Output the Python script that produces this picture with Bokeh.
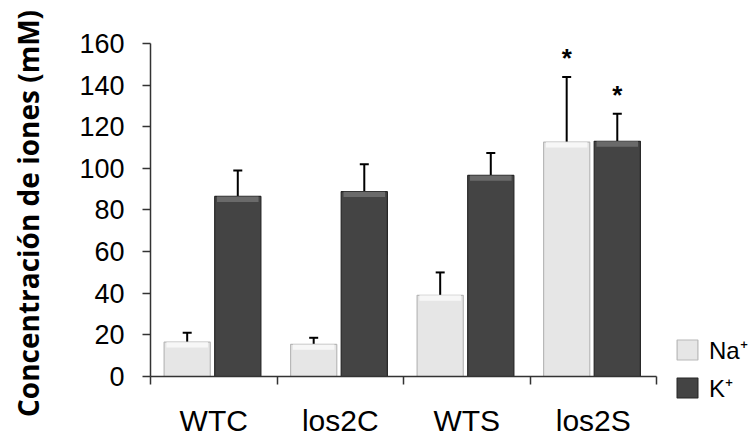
import numpy as np
from bokeh.plotting import figure
from bokeh.models import (ColumnDataSource, FixedTicker, Whisker, TeeHead, Range1d,
                          Legend, LegendItem, Label)
from bokeh.core.properties import value
from bokeh.embed import file_html
from bokeh.resources import INLINE

categories = ["WTC", "los2C", "WTS", "los2S"]
na_mean = [16.5, 15.4, 39.0, 112.6]
na_err = [4.5, 3.2, 11.0, 31.3]
k_mean = [86.5, 88.8, 96.6, 113.0]
k_err = [12.5, 13.2, 10.8, 13.3]
na_signif = [False, False, False, True]
k_signif = [False, False, False, True]
y_ticks = [0, 20, 40, 60, 80, 100, 120, 140, 160]
y_title = "Concentración de iones (mM)"
series_labels = ["Na⁺", "K⁺"]

NA_OFF, K_OFF, BAR_W = -0.21, 0.19, 0.365
n = len(categories)
idx = np.arange(n) + 0.5

na = ColumnDataSource(dict(x=idx + NA_OFF, top=na_mean, up=np.add(na_mean, na_err),
                           bev=np.subtract(na_mean, 2.6)))
k = ColumnDataSource(dict(x=idx + K_OFF, top=k_mean, up=np.add(k_mean, k_err),
                          bev=np.subtract(k_mean, 2.6)))

W, H = 753, 436
# the frame covers the whole canvas; axes are drawn at fixed locations inside it
p = figure(width=W, height=H, output_backend="svg", toolbar_location=None,
           x_range=Range1d(-1.1858, 4.7668), y_range=Range1d(-28.83, 180.66),
           min_border=0)
p.outline_line_color = None
p.grid.grid_line_color = None
p.background_fill_color = "white"

na_r = p.vbar(x="x", top="top", bottom=0, width=BAR_W, source=na,
              fill_color="#e6e6e6", line_color="#b8b8b8", line_width=1.2)
k_r = p.vbar(x="x", top="top", bottom=0, width=BAR_W, source=k,
             fill_color="#444444", line_color="#262626", line_width=1.2)
# bevel strips on top of bars
p.vbar(x="x", top="top", bottom="bev", width=BAR_W * 0.9, source=na,
       fill_color="#f7f7f7", line_color=None)
p.vbar(x="x", top="top", bottom="bev", width=BAR_W * 0.9, source=k,
       fill_color="#6a6a6a", line_color=None)

for src in (na, k):
    w = Whisker(base="x", lower="top", upper="up", source=src, dimension="height",
                line_color="black", line_width=2,
                upper_head=TeeHead(size=9, line_color="black", line_width=2),
                lower_head=None)
    p.add_layout(w)

star_x = list((idx + NA_OFF)[np.array(na_signif)]) + list((idx + K_OFF)[np.array(k_signif)])
star_y = list(np.add(na_mean, na_err)[np.array(na_signif)]) + list(np.add(k_mean, k_err)[np.array(k_signif)])
p.text(x=star_x, y=star_y, text=["*"] * len(star_x), text_align="center",
       text_baseline="bottom", y_offset=-4, text_font=value("Liberation Sans"),
       text_font_style="bold", text_font_size="26px", text_color="black")

# y axis at x=0
p.yaxis.fixed_location = 0
p.yaxis.bounds = (0, 160)
p.yaxis.ticker = FixedTicker(ticks=y_ticks)
p.yaxis.major_tick_out = 8
p.yaxis.major_tick_in = 0
p.yaxis.minor_tick_line_color = None
p.yaxis.axis_line_color = "#333333"
p.yaxis.axis_line_width = 1.5
p.yaxis.major_tick_line_color = "#333333"
p.yaxis.major_tick_line_width = 1.5
p.yaxis.major_label_text_font = "Liberation Sans"
p.yaxis.major_label_text_font_size = "27px"
p.yaxis.major_label_text_color = "black"
p.yaxis.major_label_standoff = 18

# x axis at y=0
p.xaxis.fixed_location = 0
p.xaxis.bounds = (0, n)
p.xaxis.ticker = FixedTicker(ticks=list(idx), minor_ticks=list(range(n + 1)))
p.xaxis.major_label_overrides = {float(v): c for v, c in zip(idx, categories)}
p.xaxis.major_tick_line_color = None
p.xaxis.major_tick_out = 8
p.xaxis.minor_tick_out = 8
p.xaxis.minor_tick_in = 0
p.xaxis.minor_tick_line_color = "#333333"
p.xaxis.minor_tick_line_width = 1.5
p.xaxis.axis_line_color = "#333333"
p.xaxis.axis_line_width = 1.5
p.xaxis.major_label_text_font = "Liberation Sans"
p.xaxis.major_label_text_font_size = "30px"
p.xaxis.major_label_text_color = "black"
p.xaxis.major_label_standoff = 20

p.add_layout(Label(x=27, y=H - 213, x_units="screen", y_units="screen", text=y_title,
                   angle=np.pi / 2, text_align="center", text_baseline="middle",
                   text_font="Open Sans", text_font_style="bold", text_font_size="28px",
                   text_color="black"))

legend = Legend(items=[LegendItem(label=series_labels[0], renderers=[na_r]),
                       LegendItem(label=series_labels[1], renderers=[k_r])],
                location=(674, 32), orientation="vertical",
                glyph_width=26, glyph_height=25, label_standoff=9, spacing=5,
                label_height=25, padding=0, margin=0, border_line_color=None,
                background_fill_alpha=0,
                label_text_font="Liberation Sans", label_text_font_size="24px",
                label_text_color="black")
p.add_layout(legend, "center")

open("out.html", "w").write(file_html(p, INLINE))
